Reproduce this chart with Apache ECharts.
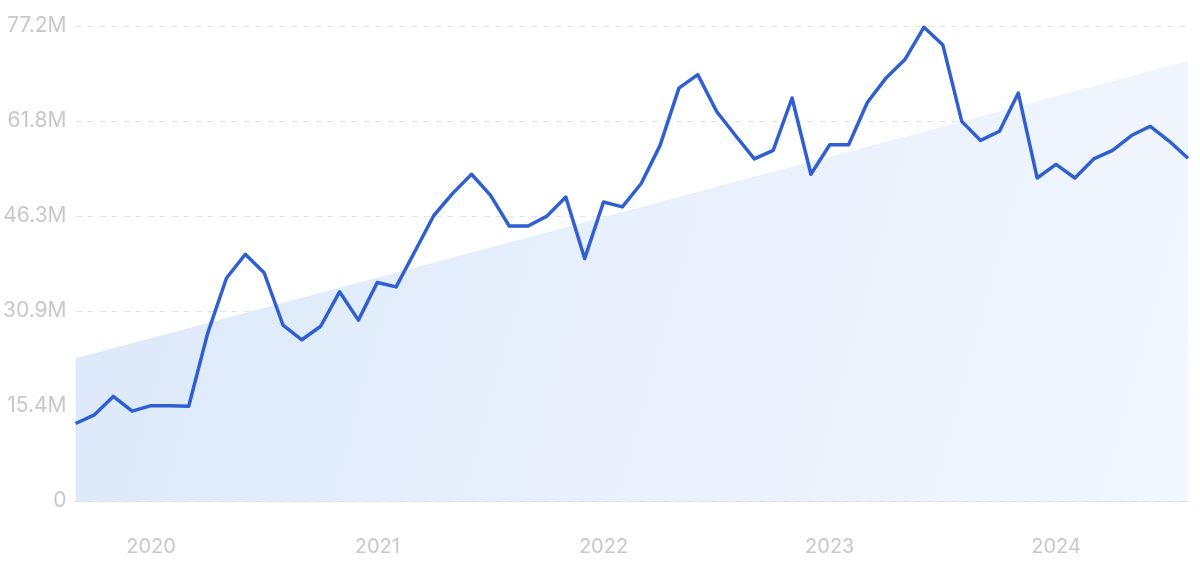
<!DOCTYPE html>
<html>
<head>
<meta charset="utf-8">
<script src="https://cdn.jsdelivr.net/npm/echarts@6/dist/echarts.min.js"></script>
<style>
html,body{margin:0;padding:0;background:#fff;}
#c{width:1200px;height:562px;}
</style>
</head>
<body>
<div id="c"></div>
<script>
// Months Sep 2019 .. Aug 2024
const months = [
 '2019-09','2019-10','2019-11','2019-12',
 '2020-01','2020-02','2020-03','2020-04','2020-05','2020-06','2020-07','2020-08','2020-09','2020-10','2020-11','2020-12',
 '2021-01','2021-02','2021-03','2021-04','2021-05','2021-06','2021-07','2021-08','2021-09','2021-10','2021-11','2021-12',
 '2022-01','2022-02','2022-03','2022-04','2022-05','2022-06','2022-07','2022-08','2022-09','2022-10','2022-11','2022-12',
 '2023-01','2023-02','2023-03','2023-04','2023-05','2023-06','2023-07','2023-08','2023-09','2023-10','2023-11','2023-12',
 '2024-01','2024-02','2024-03','2024-04','2024-05','2024-06','2024-07','2024-08'
];
// values in millions
const values = [
 12.6, 14.0, 17.0, 14.6,
 15.5, 15.5, 15.4, 27.2, 36.2, 40.1, 37.1, 28.6, 26.2, 28.4, 34.0, 29.4,
 35.5, 34.8, 40.6, 46.4, 50.0, 53.1, 49.7, 44.7, 44.7, 46.3, 49.4, 39.4,
 48.6, 47.8, 51.6, 57.8, 67.1, 69.3, 63.3, 59.4, 55.6, 57.0, 65.5, 53.1,
 57.9, 57.9, 64.8, 68.8, 71.8, 77.0, 74.1, 61.7, 58.6, 60.1, 66.3, 52.5,
 54.7, 52.5, 55.6, 57.0, 59.4, 60.9, 58.5, 55.7
];
// trend line: start and end values (millions)
const trendStart = 23.2;
const trendEnd = 71.5;
const yTicks = [0, 15.44, 30.88, 46.32, 61.76, 77.2];

const chart = echarts.init(document.getElementById('c'), null, {renderer: 'canvas'});
const font = 'Inter, "Noto Sans", sans-serif';
chart.setOption({
  animation: false,
  backgroundColor: '#ffffff',
  grid: {left: 75, right: 12, top: 26, bottom: 61, containLabel: false},
  xAxis: [{
    type: 'category',
    data: months,
    boundaryGap: false,
    axisLine: {show: true, lineStyle: {color: '#d3e1f3', width: 1.5}},
    axisTick: {show: false},
    splitLine: {show: false},
    axisLabel: {
      interval: (i, v) => v.endsWith('-01'),
      formatter: v => v.slice(0, 4),
      color: '#c8c8cc',
      fontSize: 20,
      fontFamily: font,
      margin: 36
    }
  }, {
    type: 'value',
    min: 0,
    max: months.length - 1,
    show: false
  }],
  yAxis: {
    type: 'value',
    min: yTicks[0],
    max: yTicks[yTicks.length - 1],
    interval: yTicks[1],
    axisLine: {show: false},
    axisTick: {show: false},
    splitLine: {show: true, lineStyle: {color: '#dde4ee', type: [6, 6], width: 1}},
    axisLabel: {
      formatter: v => v === 0 ? '0' : (Math.round(v * 10) / 10).toFixed(1) + 'M',
      color: '#c8c8cc',
      fontSize: 21,
      fontFamily: font,
      margin: 9
    }
  },
  series: [{
    type: 'line',
    xAxisIndex: 1,
    data: [[0, trendStart], [months.length - 1, trendEnd]],
    symbol: 'none',
    lineStyle: {width: 0},
    areaStyle: {
      opacity: 1,
      color: new echarts.graphic.LinearGradient(0, 0.3, 1, 1, [
        {offset: 0, color: '#dce9fa'},
        {offset: 1, color: '#f3f7fe'}
      ])
    },
    silent: true,
    z: 1
  }, {
    type: 'line',
    data: values,
    symbol: 'none',
    lineStyle: {color: '#2f5fd1', width: 3.5, join: 'round'},
    z: 3
  }]
});
</script>
</body>
</html>
